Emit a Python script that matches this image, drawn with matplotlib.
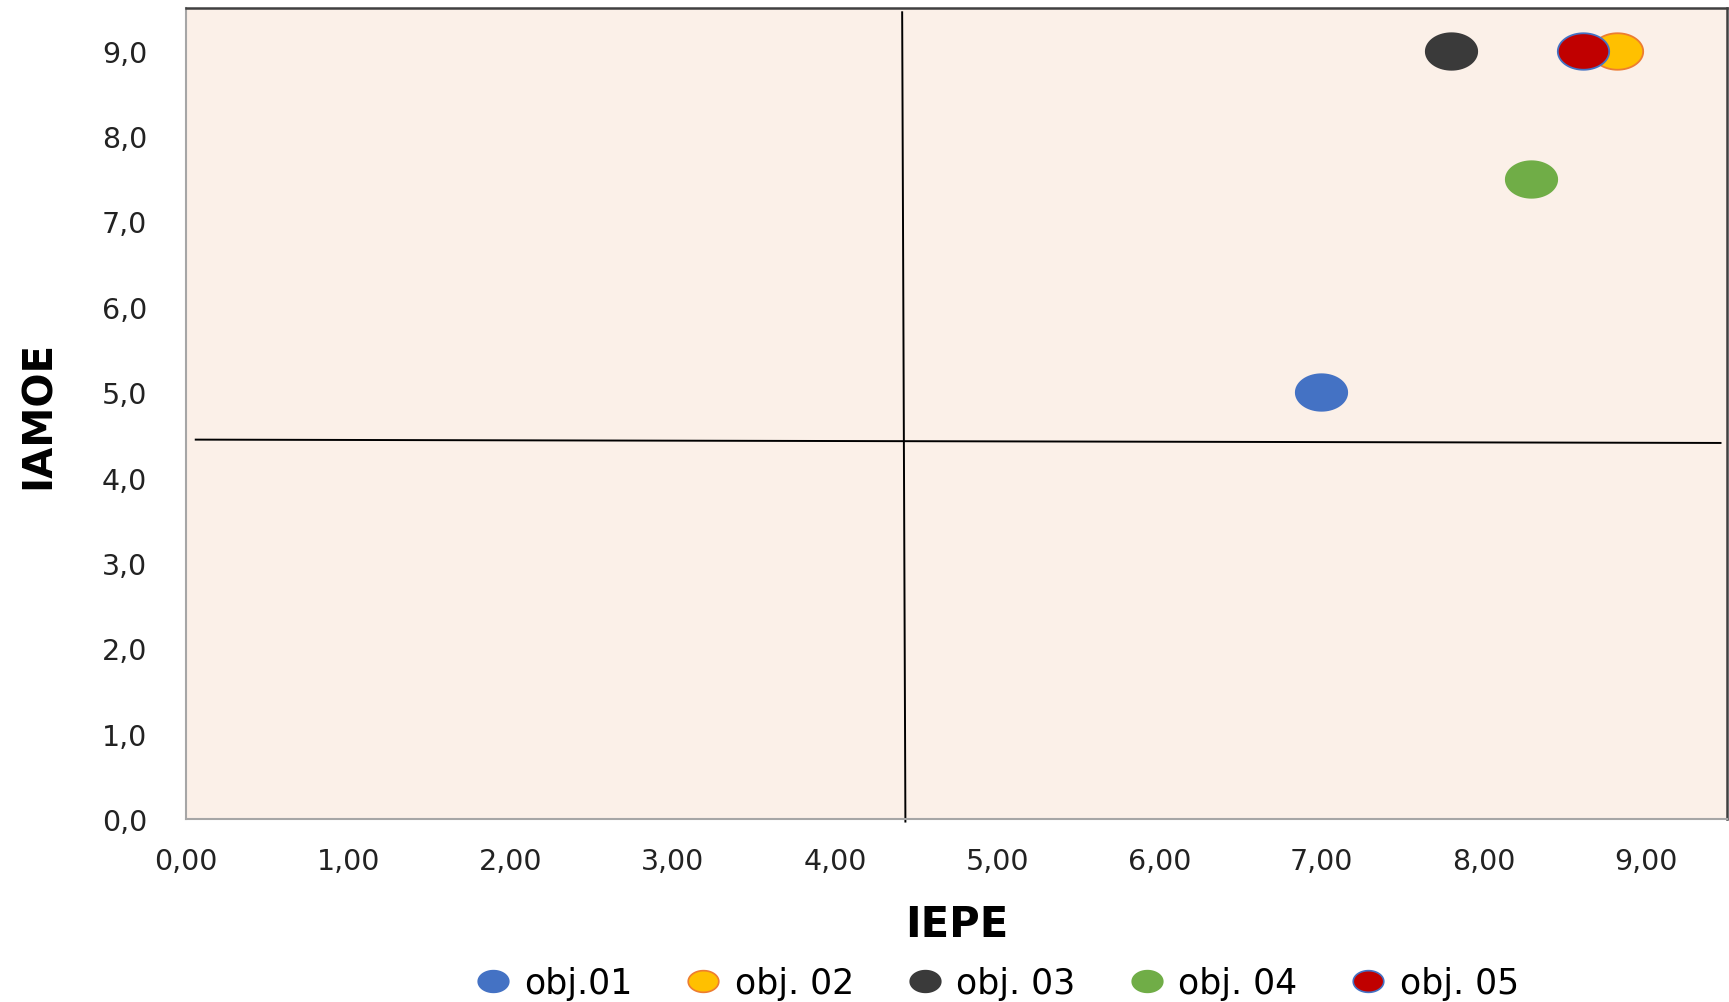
import numpy as np
import matplotlib
matplotlib.use("Agg")
import matplotlib.pyplot as plt
from matplotlib.path import Path
from matplotlib.lines import Line2D

# ---- data ----
labels = ["obj.01", "obj. 02", "obj. 03", "obj. 04", "obj. 05"]
iepe = [7.00, 8.82, 7.80, 8.29, 8.61]
iamoe = [5.0, 9.0, 9.0, 7.5, 9.0]
face_colors = ["#4472C4", "#FFC000", "#3A3A3A", "#70AD47", "#C00000"]
edge_colors = ["#4472C4", "#ED7D31", "#3A3A3A", "#70AD47", "#4472C4"]

x_ticks = [0, 1, 2, 3, 4, 5, 6, 7, 8, 9]
y_ticks = [0, 1, 2, 3, 4, 5, 6, 7, 8, 9]

# quadrant divider lines (endpoints)
vline_x = [4.415, 4.435]
vline_y = [9.45, -0.03]
hline_x = [0.06, 9.46]
hline_y = [4.444, 4.405]

# ---- figure ----
W, H = 1729, 1003
fig = plt.figure(figsize=(W / 100, H / 100), dpi=100)
ax = fig.add_axes([186 / W, 1 - 820 / H, (1727 - 186) / W, (820 - 9) / H])
ax.set_facecolor("#FBF0E8")
ax.set_xlim(0, 9.5)
ax.set_ylim(0, 9.5)

# elliptical marker (wider than tall)
t = np.linspace(0, 2 * np.pi, 73)
ell = Path(np.column_stack([np.cos(t), 0.71 * np.sin(t)]), closed=True)

ax.plot(vline_x, vline_y, color="black", lw=1.4, clip_on=False, zorder=2)
ax.plot(hline_x, hline_y, color="black", lw=1.4, clip_on=False, zorder=2)

for xi, yi, fc, ec in zip(iepe, iamoe, face_colors, edge_colors):
    ax.plot([xi], [yi], linestyle="none", marker=ell, markersize=37,
            markerfacecolor=fc, markeredgecolor=ec, markeredgewidth=1.3, zorder=3)

ax.set_xticks(x_ticks)
ax.set_yticks(y_ticks)
ax.set_xticklabels([f"{v:.2f}".replace(".", ",") for v in x_ticks])
ax.set_yticklabels([f"{v:.1f}".replace(".", ",") for v in y_ticks])
ax.tick_params(axis="both", length=0, labelsize=20.5, colors="#222222")
ax.tick_params(axis="x", pad=20)
ax.tick_params(axis="y", pad=28)

for s in ["top", "right"]:
    ax.spines[s].set_color("#404040")
    ax.spines[s].set_linewidth(1.8)
for s in ["left", "bottom"]:
    ax.spines[s].set_color("#A6A6A6")
    ax.spines[s].set_linewidth(1.5)

ax.set_xlabel("IEPE", fontsize=30, fontweight="bold", labelpad=20)
ax.set_ylabel("IAMOE", fontsize=29, fontweight="bold", labelpad=31)

handles = [Line2D([], [], linestyle="none", marker=ell, markersize=22,
                  markerfacecolor=fc, markeredgecolor=ec, markeredgewidth=1.2)
           for fc, ec in zip(face_colors, edge_colors)]
fig.legend(handles, labels, loc="center", bbox_to_anchor=(997 / W, 1 - 984 / H),
           ncol=5, frameon=False, fontsize=25, handlelength=1.0,
           handletextpad=0.4, columnspacing=1.55, borderaxespad=0)

fig.savefig("out.png", dpi=100, facecolor="white")
